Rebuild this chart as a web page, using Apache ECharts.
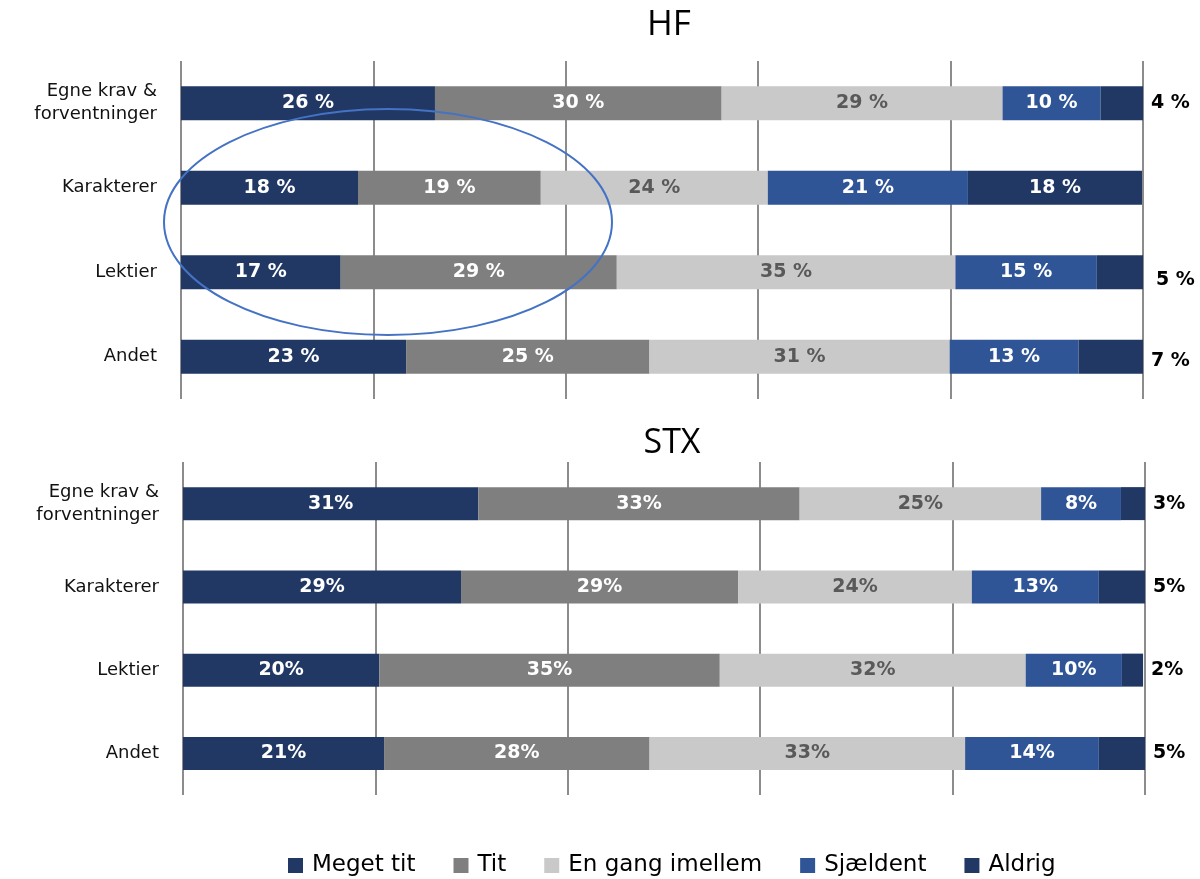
<!DOCTYPE html>
<html>
<head>
<meta charset="UTF-8">
<title>HF / STX</title>
<script src="https://cdn.jsdelivr.net/npm/echarts@6/dist/echarts.min.js"></script>
<style>
  html, body { margin: 0; padding: 0; background: #fff; }
  #main { width: 1200px; height: 879px; }
</style>
</head>
<body>
<div id="main"></div>
<script type="text/javascript">
// kategorier (samme i begge paneler)
var categories = ['Egne krav &\nforventninger', 'Karakterer', 'Lektier', 'Andet'];
var seriesNames = ['Meget tit', 'Tit', 'En gang imellem', 'Sjældent', 'Aldrig'];
var colors = ['#213864', '#7f7f7f', '#c9c9c9', '#2f5597', '#213864'];
var labelColors = ['#ffffff', '#ffffff', '#595959', '#ffffff', '#ffffff'];

// HF - andele i procent (aflæst af figuren)
var hfMegetTit = [26.4, 18.4, 16.6, 23.4];
var hfTit      = [29.8, 19.0, 28.7, 25.3];
var hfEnGang   = [29.2, 23.6, 35.2, 31.2];
var hfSjaeldent= [10.2, 20.8, 14.7, 13.4];
var hfAldrig   = [4.4, 18.1, 4.8, 6.8];

// STX
var stxMegetTit = [30.7, 28.9, 20.4, 20.9];
var stxTit      = [33.4, 28.8, 35.4, 27.6];
var stxEnGang   = [25.1, 24.3, 31.8, 32.8];
var stxSjaeldent= [8.3, 13.2, 10.0, 13.9];
var stxAldrig   = [2.6, 4.8, 2.2, 4.8];

var hfData = [hfMegetTit, hfTit, hfEnGang, hfSjaeldent, hfAldrig];
var stxData = [stxMegetTit, stxTit, stxEnGang, stxSjaeldent, stxAldrig];

// forskydning af de udvendige etiketter (som i originalen)
var outsideOffset = [
    [[0, 0], [0, 0], [5, 8], [0, 4]],
    [[0, 0], [0, 0], [0, 0], [0, 0]]
];

var myChart = echarts.init(document.getElementById('main'));

function makeSeries(dataSets, idx, suffix) {
    var out = [];
    for (var s = 0; s < dataSets.length; s++) {
        var items = [];
        for (var i = 0; i < dataSets[s].length; i++) {
            var v = dataSets[s][i];
            var item = { value: v };
            // smaa "Aldrig"-vaerdier staar uden for sojlen
            if (s === 4 && v < 10) {
                item.label = { position: 'right', distance: 8, color: '#000', offset: outsideOffset[idx][i] };
            }
            items.push(item);
        }
        out.push({
            name: seriesNames[s],
            type: 'bar',
            stack: 'total' + idx,
            xAxisIndex: idx,
            yAxisIndex: idx,
            barWidth: idx === 0 ? 34 : 33,
            itemStyle: { color: colors[s] },
            label: {
                show: true,
                position: 'inside',
                color: labelColors[s],
                fontFamily: 'DejaVu Sans',
                fontWeight: 'bold',
                fontSize: 19,
                formatter: function (p) { return Math.round(p.value) + suffix; }
            },
            data: items
        });
    }
    return out;
}

var series = makeSeries(hfData, 0, ' %').concat(makeSeries(stxData, 1, '%'));

function xAxisFor(gi) {
    return {
        type: 'value', gridIndex: gi, min: 0, max: 100, interval: 20,
        axisLabel: { show: false }, axisTick: { show: false }, axisLine: { show: false },
        splitLine: { show: true, lineStyle: { color: '#8c8c8c', width: 2 } }
    };
}
function yAxisFor(gi) {
    return {
        type: 'category', gridIndex: gi, inverse: true, data: categories,
        axisLine: { show: false }, axisTick: { show: false },
        axisLabel: { color: '#111', fontFamily: 'DejaVu Sans', fontSize: 18, margin: 24, lineHeight: 23, align: 'right' }
    };
}

option = {
    animation: false,
    title: [
        { text: 'HF', left: 664, top: 3, textAlign: 'center',
          textStyle: { fontFamily: 'Open Sans', fontWeight: 'normal', fontSize: 35, color: '#000' } },
        { text: 'STX', left: 667, top: 421, textAlign: 'center',
          textStyle: { fontFamily: 'Open Sans', fontWeight: 'normal', fontSize: 34, color: '#000' } }
    ],
    legend: {
        data: seriesNames,
        bottom: -3,
        left: 283,
        itemWidth: 15,
        itemHeight: 15,
        itemGap: 38,
        icon: 'rect',
        textStyle: { fontFamily: 'DejaVu Sans', fontSize: 23, color: '#000', padding: [0, 0, 0, 4] }
    },
    grid: [
        { left: 181, right: 57, top: 61, height: 338 },
        { left: 183, right: 55, top: 462, height: 333 }
    ],
    xAxis: [xAxisFor(0), xAxisFor(1)],
    yAxis: [yAxisFor(0), yAxisFor(1)],
    graphic: [{
        type: 'ellipse',
        shape: { cx: 388, cy: 222, rx: 224, ry: 113 },
        style: { fill: 'none', stroke: '#4472c4', lineWidth: 2 },
        z: 100
    }],
    series: series
};

myChart.setOption(option);
</script>
</body>
</html>
